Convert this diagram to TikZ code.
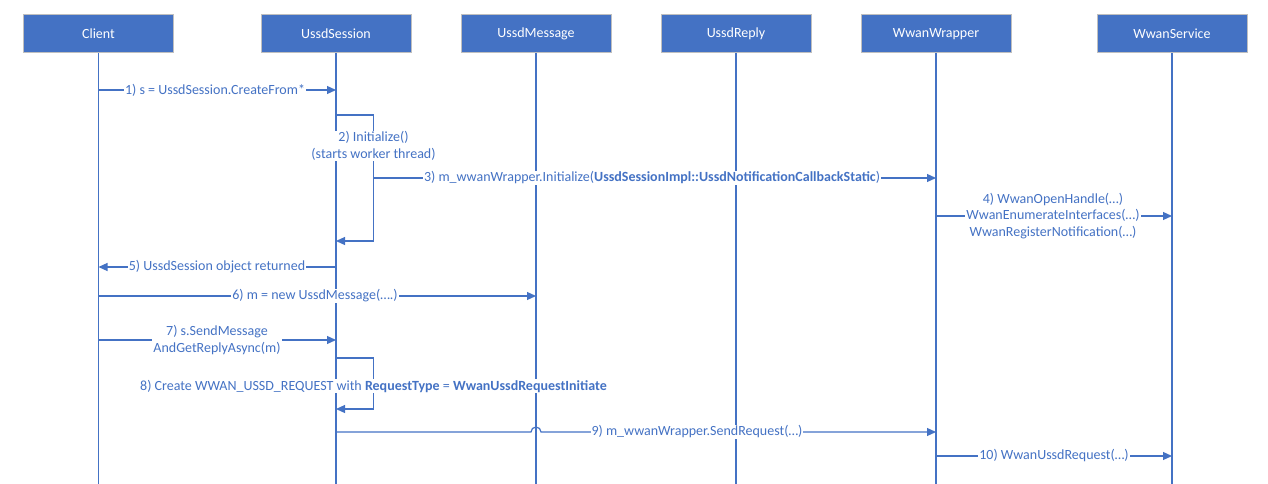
\documentclass[tikz,border=0pt]{standalone}
\usepackage{fontspec}
\setmainfont{Carlito}
\usetikzlibrary{arrows.meta}
\definecolor{blu}{HTML}{4472C4}
\definecolor{brd}{HTML}{BFBFBF}
\begin{document}
\begin{tikzpicture}[x=1pt,y=-1pt,
  hdr/.style={draw=brd, line width=1pt, fill=blu, text=white, minimum width=150pt, minimum height=38pt, inner sep=0pt, font=\fontsize{14}{16}\selectfont},
  life/.style={draw=blu, line width=1.2pt},
  msg/.style={draw=blu, line width=1.2pt, -{Triangle[length=9pt,width=8pt]}},
  lbl/.style={fill=white, text=blu, inner sep=1pt, align=center, font=\fontsize{14}{16.5}\selectfont}]
\useasboundingbox (0,0) rectangle (1268,484);

% headers
\node[hdr] (client) at (98.5,34) {Client};
\node[hdr] (sess) at (336,34) {UssdSession};
\node[hdr] (msgb) at (536,34) {UssdMessage};
\node[hdr] (reply) at (736,34) {UssdReply};
\node[hdr] (wrap) at (936,34) {WwanWrapper};
\node[hdr] (serv) at (1172,34) {WwanService};

% lifeline ends
\coordinate (clientE) at (98.5,484);
\coordinate (sessE) at (336,484);
\coordinate (msgE) at (536,484);
\coordinate (replyE) at (736,484);
\coordinate (wrapE) at (936,484);
\coordinate (servE) at (1172,484);
\draw[life] (client.south) -- (clientE);
\draw[life] (sess.south) -- (sessE);
\draw[life] (msgb.south) -- (msgE);
\draw[life] (reply.south) -- (replyE);
\draw[life] (wrap.south) -- (wrapE);
\draw[life] (serv.south) -- (servE);

% message points
\coordinate (c1) at (98.5,90);  \coordinate (s1) at (336,90);
\coordinate (s2a) at (336,115); \coordinate (l2a) at (373.5,115); \coordinate (l2b) at (373.5,241); \coordinate (s2b) at (336,241);
\coordinate (l3) at (373.5,178); \coordinate (w3) at (936,178);
\coordinate (w4) at (936,216); \coordinate (v4) at (1172,216);
\coordinate (s5) at (336,267); \coordinate (c5) at (98.5,267);
\coordinate (c6) at (98.5,296); \coordinate (m6) at (536,296);
\coordinate (c7) at (98.5,340); \coordinate (s7) at (336,340);
\coordinate (s8a) at (336,358); \coordinate (l8a) at (373.5,358); \coordinate (l8b) at (373.5,409); \coordinate (s8b) at (336,409);
\coordinate (s9) at (336,432); \coordinate (h9) at (531,432); \coordinate (w9) at (936,432);
\coordinate (w10) at (936,456); \coordinate (v10) at (1172,456);

% connectors
\draw[msg] (c1) -- (s1);
\draw[msg] (s2a) -- (l2a) -- (l2b) -- (s2b);
\draw[msg] (l3) -- (w3);
\draw[msg] (w4) -- (v4);
\draw[msg] (s5) -- (c5);
\draw[msg] (c6) -- (m6);
\draw[msg] (c7) -- (s7);
\draw[msg] (s8a) -- (l8a) -- (l8b) -- (s8b);
\draw[msg] (s9) -- (h9) arc (180:360:5) -- (w9);
\draw[msg] (w10) -- (v10);

% labels
\node[lbl] (t1) at (215,90) {1) s = UssdSession.CreateFrom*};
\node[lbl] (t2) at (373.5,146) {2) Initialize()\\(starts worker thread)};
\node[lbl] (t3) at (652,178) {3) m\_wwanWrapper.Initialize(\textbf{UssdSessionImpl::UssdNotificationCallbackStatic})};
\node[lbl] (t4) at (1053,216) {4) WwanOpenHandle(…)\\WwanEnumerateInterfaces(…)\\WwanRegisterNotification(…)};
\node[lbl] (t5) at (217,267) {5) UssdSession object returned};
\node[lbl] (t6) at (315,296) {6) m = new UssdMessage(….)};
\node[lbl] (t7) at (217,340) {7) s.SendMessage\\AndGetReplyAsync(m)};
\node[lbl] (t8) at (373.5,386) {8) Create WWAN\_USSD\_REQUEST with \textbf{RequestType} = \textbf{WwanUssdRequestInitiate}};
\node[lbl] (t9) at (697,432) {9) m\_wwanWrapper.SendRequest(…)};
\node[lbl] (t10) at (1054,456) {10) WwanUssdRequest(…)};
\end{tikzpicture}
\end{document}
